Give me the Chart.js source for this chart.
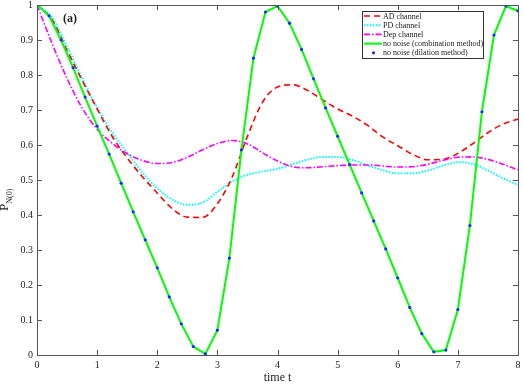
<!DOCTYPE html>
<html>
<head>
<meta charset="utf-8">
<script src="https://cdn.jsdelivr.net/npm/chart.js@4/dist/chart.umd.min.js"></script>
<style>
  html, body { margin: 0; padding: 0; background: #fff; }
  #wrap { width: 523px; height: 385px; }
</style>
</head>
<body>
<div id="wrap"><canvas id="chart"></canvas></div>
<script>
// sample times for the no-noise curves
const timeSteps = [0, 0.2, 0.4, 0.6, 0.8, 1.0, 1.2, 1.4, 1.6, 1.8, 2.0, 2.2, 2.4, 2.6, 2.8, 3.0, 3.2, 3.4, 3.6, 3.8,
  4.0, 4.2, 4.4, 4.6, 4.8, 5.0, 5.2, 5.4, 5.6, 5.8, 6.0, 6.2, 6.4, 6.6, 6.8, 7.0, 7.2, 7.4, 7.6, 7.8, 8.0];
const noNoise = [1.0, 0.969, 0.9, 0.821, 0.737, 0.654, 0.574, 0.491, 0.409, 0.329, 0.249, 0.166, 0.089, 0.024, 0.003,
  0.071, 0.277, 0.586, 0.848, 0.98, 0.997, 0.948, 0.873, 0.789, 0.706, 0.625, 0.544, 0.463, 0.383, 0.303, 0.22,
  0.136, 0.061, 0.009, 0.014, 0.13, 0.37, 0.695, 0.914, 0.997, 0.983];

// sample times for the noisy channels
const channelTimes = [0, 0.25, 0.5, 0.75, 1.0, 1.25, 1.5, 1.75, 2.0, 2.25, 2.5, 2.75, 3.0, 3.25, 3.5, 3.75, 4.0,
  4.25, 4.5, 4.75, 5.0, 5.25, 5.5, 5.75, 6.0, 6.25, 6.5, 6.75, 7.0, 7.25, 7.5, 7.75, 8.0];
const adChannel = [1.0, 0.958, 0.87, 0.785, 0.703, 0.625, 0.563, 0.51, 0.463, 0.418, 0.394, 0.393, 0.432, 0.51,
  0.625, 0.722, 0.766, 0.772, 0.756, 0.729, 0.703, 0.682, 0.656, 0.623, 0.598, 0.573, 0.558, 0.559, 0.576, 0.604,
  0.635, 0.66, 0.674];
const pdChannel = [1.0, 0.965, 0.88, 0.792, 0.707, 0.636, 0.578, 0.522, 0.476, 0.444, 0.429, 0.435, 0.466, 0.496,
  0.515, 0.524, 0.532, 0.545, 0.558, 0.566, 0.566, 0.557, 0.542, 0.528, 0.519, 0.519, 0.527, 0.541, 0.551, 0.546,
  0.527, 0.505, 0.486];
const depChannel = [1.0, 0.89, 0.79, 0.706, 0.645, 0.605, 0.575, 0.556, 0.547, 0.55, 0.565, 0.586, 0.604, 0.613,
  0.603, 0.578, 0.554, 0.538, 0.535, 0.538, 0.541, 0.543, 0.543, 0.54, 0.537, 0.538, 0.545, 0.556, 0.565, 0.566,
  0.559, 0.545, 0.529];

const xTicks = [0, 1, 2, 3, 4, 5, 6, 7, 8];
const yTicks = [0, 0.1, 0.2, 0.3, 0.4, 0.5, 0.6, 0.7, 0.8, 0.9, 1];

const serif = "'Liberation Serif', 'DejaVu Serif', serif";

function pairs(xs, ys) {
  return xs.map((x, i) => ({ x: x, y: ys[i] }));
}

// box with inward ticks, y title, panel label and legend
const frame = {
  id: 'frame',
  afterDraw(chart) {
    const { ctx, chartArea: a, scales } = chart;
    ctx.save();
    ctx.strokeStyle = '#555';
    ctx.lineWidth = 1;
    ctx.strokeRect(Math.round(a.left) + 0.5, Math.round(a.top) + 0.5,
      Math.round(a.right - a.left), Math.round(a.bottom - a.top));
    ctx.beginPath();
    xTicks.forEach((v) => {
      const px = Math.round(scales.x.getPixelForValue(v)) + 0.5;
      ctx.moveTo(px, a.bottom); ctx.lineTo(px, a.bottom - 5);
      ctx.moveTo(px, a.top); ctx.lineTo(px, a.top + 5);
    });
    yTicks.forEach((v) => {
      const py = Math.round(scales.y.getPixelForValue(v)) + 0.5;
      ctx.moveTo(a.left, py); ctx.lineTo(a.left + 5, py);
      ctx.moveTo(a.right, py); ctx.lineTo(a.right - 5, py);
    });
    ctx.stroke();

    // y axis title P_N(0)
    ctx.fillStyle = '#222';
    ctx.save();
    ctx.translate(8, 211);
    ctx.rotate(-Math.PI / 2);
    ctx.textBaseline = 'alphabetic';
    ctx.textAlign = 'left';
    ctx.font = '13px ' + serif;
    ctx.fillText('P', 0, 0);
    const pw = ctx.measureText('P').width;
    ctx.font = '8px ' + serif;
    ctx.fillText('N(0)', pw, 4);
    ctx.restore();

    // panel label
    ctx.font = 'bold 12px ' + serif;
    ctx.textBaseline = 'middle';
    ctx.fillText('(a)', 63, 19);

    // legend
    const lx = 362, ly = 11, lw = 121, lh = 47;
    ctx.fillStyle = '#fff';
    ctx.fillRect(lx, ly, lw, lh);
    ctx.strokeStyle = '#333';
    ctx.strokeRect(lx + 0.5, ly + 0.5, lw, lh);
    ctx.font = '8px ' + serif;
    ctx.textBaseline = 'middle';
    chart.data.datasets.forEach((ds, i) => {
      const y = ly + 5 + i * 9.2;
      if (ds.showLine === false) {
        ctx.fillStyle = ds.pointBackgroundColor;
        ctx.beginPath();
        ctx.arc(lx + 11.5, y, 1.6, 0, Math.PI * 2);
        ctx.fill();
      } else {
        ctx.strokeStyle = ds.borderColor;
        ctx.lineWidth = ds.borderWidth;
        ctx.setLineDash(ds.borderDash || []);
        ctx.beginPath();
        ctx.moveTo(lx + 2, y); ctx.lineTo(lx + 20, y);
        ctx.stroke();
        ctx.setLineDash([]);
      }
      ctx.fillStyle = '#222';
      ctx.fillText(ds.label, lx + 21, y + 0.5);
    });
    ctx.restore();
  }
};

const config = {
  type: 'line',
  data: {
    datasets: [
      {
        label: 'AD channel',
        data: pairs(channelTimes, adChannel),
        borderColor: '#ff0000',
        borderWidth: 1.6,
        borderDash: [6, 4],
        pointRadius: 0,
        cubicInterpolationMode: 'monotone',
        order: 3,
      },
      {
        label: 'PD channel',
        data: pairs(channelTimes, pdChannel),
        borderColor: '#00ffff',
        borderWidth: 2,
        borderDash: [1.5, 1.5],
        pointRadius: 0,
        cubicInterpolationMode: 'monotone',
        order: 4,
      },
      {
        label: 'Dep channel',
        data: pairs(channelTimes, depChannel),
        borderColor: '#ff00ff',
        borderWidth: 1.6,
        borderDash: [6, 2, 1.5, 2],
        pointRadius: 0,
        cubicInterpolationMode: 'monotone',
        order: 2,
      },
      {
        label: 'no noise (combination method)',
        data: pairs(timeSteps, noNoise),
        borderColor: '#00ff00',
        borderWidth: 2,
        pointRadius: 0,
        tension: 0,
        order: 1,
      },
      {
        label: 'no noise (dilation method)',
        data: pairs(timeSteps, noNoise),
        showLine: false,
        pointRadius: 1.6,
        pointBorderWidth: 0,
        pointBackgroundColor: '#1a2cff',
        pointBorderColor: '#1a2cff',
        order: 0,
      },
    ],
  },
  options: {
    responsive: true,
    maintainAspectRatio: false,
    animation: false,
    layout: { padding: { top: 0, right: 0, left: 0, bottom: 0 } },
    plugins: {
      legend: { display: false },
      tooltip: { enabled: false },
    },
    scales: {
      x: {
        type: 'linear',
        min: 0,
        max: 8,
        grid: { display: false, drawTicks: false },
        border: { display: false },
        afterBuildTicks: (s) => { s.ticks = xTicks.map((v) => ({ value: v })); },
        afterFit: (s) => { s.height = 30; s.paddingRight = 5; s.paddingLeft = 0; },
        ticks: {
          padding: 4,
          color: '#222',
          font: { family: serif, size: 10 },
          maxRotation: 0,
          callback: (v) => String(v),
        },
        title: {
          display: true,
          text: 'time t',
          color: '#222',
          font: { family: serif, size: 12 },
          padding: { top: 0, bottom: 0 },
        },
      },
      y: {
        type: 'linear',
        min: 0,
        max: 1,
        grid: { display: false, drawTicks: false },
        border: { display: false },
        afterBuildTicks: (s) => { s.ticks = yTicks.map((v) => ({ value: v })); },
        afterFit: (s) => { s.width = 37; s.paddingTop = 5; s.paddingBottom = 0; },
        ticks: {
          padding: 4,
          color: '#222',
          font: { family: serif, size: 10 },
          callback: (v) => String(Math.round(v * 10) / 10),
        },
      },
    },
  },
  plugins: [frame],
};

new Chart(document.getElementById('chart'), config);
</script>
</body>
</html>
